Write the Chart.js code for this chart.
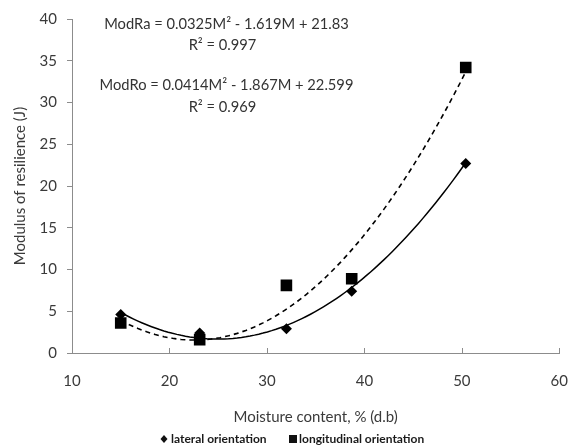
<!DOCTYPE html>
<html><head><meta charset="utf-8">
<script src="https://cdn.jsdelivr.net/npm/chart.js@4/dist/chart.umd.min.js"></script>
<style>html,body{margin:0;padding:0;background:#fff}</style>
</head><body>
<canvas id="c" width="587" height="446"></canvas>
<script>
// ---- data ----
const moisture = [15, 23.1, 32, 38.7, 50.4];
const lateral = [4.6, 2.4, 2.9, 7.4, 22.7];
const longitudinal = [3.6, 1.6, 8.1, 8.9, 34.2];
// quadratic trendline coefficients printed on the chart: a*M^2 + b*M + c
const lateralFit = [0.0325, -1.619, 21.83];
const longitudinalFit = [0.0414, -1.867, 22.599];
const xTicks = [10, 20, 30, 40, 50, 60];
const yTicks = [0, 5, 10, 15, 20, 25, 30, 35, 40];
const seriesNames = ['lateral orientation', 'longitudinal orientation'];
const equationLabels = ['ModRa = 0.0325M\u00B2 - 1.619M + 21.83', 'R\u00B2 = 0.997',
                        'ModRo = 0.0414M\u00B2 - 1.867M + 22.599', 'R\u00B2 = 0.969'];
const xTitle = 'Moisture content, % (d.b)';
const yTitle = 'Modulus of resilience (J)';

const FONT = 'Lato';
const TXT = '#3a3a3a';
const AXIS = '#8c8c8c';

function pts(xs, ys) { return xs.map((x, i) => ({x: x, y: ys[i]})); }
function trend(coef) {
  const out = [];
  const x0 = moisture[0], x1 = moisture[moisture.length - 1];
  const n = 80;
  for (let i = 0; i <= n; i++) {
    const m = x0 + (x1 - x0) * i / n;
    out.push({x: m, y: coef[0] * m * m + coef[1] * m + coef[2]});
  }
  return out;
}

const extras = {
  id: 'extras',
  afterDraw(chart) {
    const ctx = chart.ctx;
    const xs = chart.scales.x, ys = chart.scales.y;
    ctx.save();
    // inward tick marks on x axis
    ctx.strokeStyle = AXIS; ctx.lineWidth = 1;
    xTicks.forEach(v => {
      const px = Math.round(xs.getPixelForValue(v)) + 0.5;
      ctx.beginPath(); ctx.moveTo(px, ys.bottom); ctx.lineTo(px, ys.bottom - 5); ctx.stroke();
    });
    // equations
    ctx.fillStyle = '#333';
    ctx.font = '14.7px ' + FONT;
    ctx.textAlign = 'center'; ctx.textBaseline = 'middle';
    const eqY = [24, 45, 85, 107];
    const eqX = [226.5, 222.5, 226.5, 222.5];
    equationLabels.forEach((t, i) => ctx.fillText(t, eqX[i], eqY[i]));
    // legend
    const ly = 439;
    ctx.fillStyle = '#111';
    ctx.beginPath();
    ctx.moveTo(164, ly - 4); ctx.lineTo(167.5, ly); ctx.lineTo(164, ly + 4); ctx.lineTo(160.5, ly); ctx.closePath(); ctx.fill();
    ctx.fillRect(289, ly - 4, 8, 8);
    ctx.font = 'bold 12px ' + FONT;
    ctx.textAlign = 'left';
    ctx.fillStyle = '#1a1a1a';
    ctx.fillText(chart.data.datasets[0].label, 171, ly);
    ctx.fillText(chart.data.datasets[1].label, 299, ly);
    ctx.restore();
  }
};

new Chart(document.getElementById('c'), {
  type: 'scatter',
  data: {
    datasets: [
      {label: seriesNames[0], data: pts(moisture, lateral), pointStyle: 'rectRot', pointRadius: 5.5,
       backgroundColor: '#000', borderColor: '#000', borderWidth: 0, order: 0},
      {label: seriesNames[1], data: pts(moisture, longitudinal), pointStyle: 'rect', pointRadius: 8.2,
       backgroundColor: '#000', borderColor: '#000', borderWidth: 0, order: 0},
      {label: 'lateral trend', data: trend(lateralFit), showLine: true, pointRadius: 0,
       borderColor: '#000', borderWidth: 1.5, fill: false, order: 1},
      {label: 'longitudinal trend', data: trend(longitudinalFit), showLine: true, pointRadius: 0,
       borderColor: '#000', borderWidth: 1.6, borderDash: [5, 4], fill: false, order: 1}
    ]
  },
  options: {
    responsive: false,
    animation: false,
    devicePixelRatio: 1,
    layout: {padding: {left: 0, right: 17, top: 12, bottom: 0}},
    plugins: {legend: {display: false}, tooltip: {enabled: false}},
    scales: {
      x: {
        type: 'linear', min: 10, max: 60,
        afterBuildTicks: s => { s.ticks = xTicks.map(v => ({value: v})); },
        afterFit: s => { s.height = 93; },
        grid: {display: false, drawTicks: false, drawOnChartArea: false},
        border: {display: true, color: AXIS, width: 1},
        ticks: {color: TXT, font: {family: FONT, size: 15}, padding: 19, maxRotation: 0},
        title: {display: true, text: xTitle, color: TXT, font: {family: FONT, size: 15}, padding: {top: 0, bottom: 20}}
      },
      y: {
        type: 'linear', min: 0, max: 40,
        afterBuildTicks: s => { s.ticks = yTicks.map(v => ({value: v})); },
        afterFit: s => { s.width = 72; },
        grid: {display: true, drawOnChartArea: false, drawTicks: true, tickLength: 5, color: AXIS},
        border: {display: true, color: AXIS, width: 1},
        ticks: {color: TXT, font: {family: FONT, size: 15}, padding: 10},
        title: {display: true, text: yTitle, color: TXT, font: {family: FONT, size: 15}, padding: {top: 11, bottom: 0}}
      }
    }
  },
  plugins: [extras]
});
</script>
</body></html>
